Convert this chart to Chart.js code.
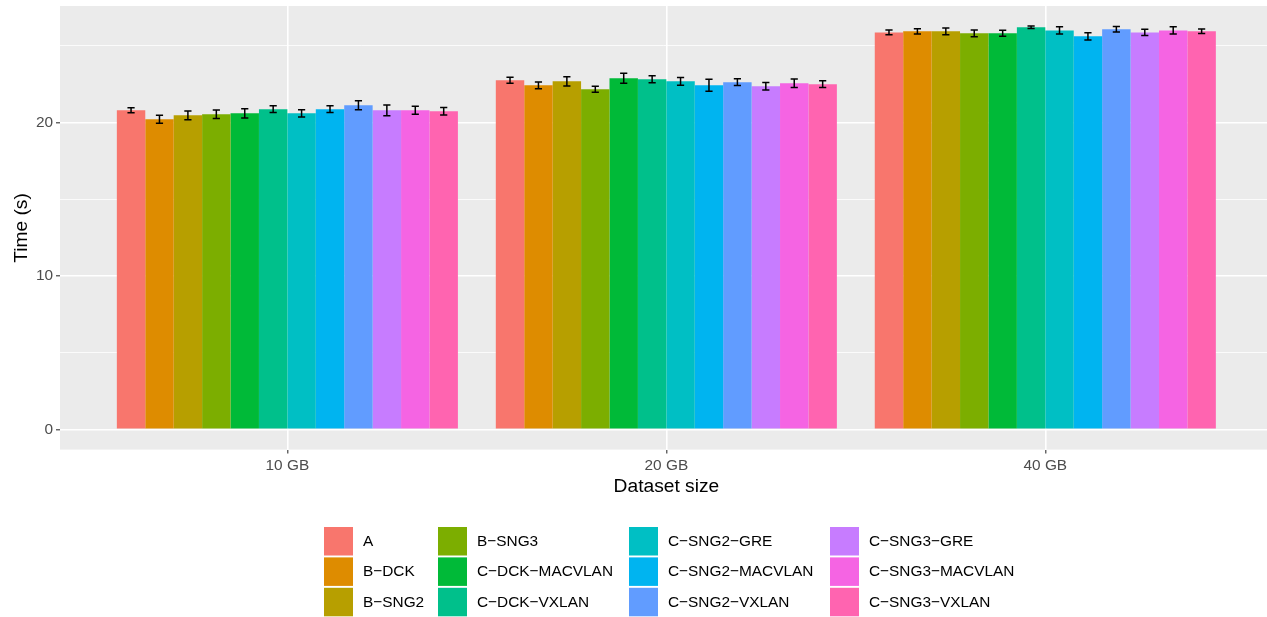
<!DOCTYPE html>
<html>
<head>
<meta charset="utf-8">
<script src="https://cdn.jsdelivr.net/npm/chart.js@4.4.1/dist/chart.umd.min.js"></script>
<style>
  html, body { margin: 0; padding: 0; background: #fff; overflow: hidden; }
  #wrap { width: 1267px; height: 617px; }
</style>
</head>
<body>
<div id="wrap"><canvas id="chart" width="1267" height="617"></canvas></div>
<script>
// ---- data ----
const categories = ["10 GB", "20 GB", "40 GB"];
const series = [
  "A", "B-DCK", "B-SNG2", "B-SNG3", "C-DCK-MACVLAN", "C-DCK-VXLAN",
  "C-SNG2-GRE", "C-SNG2-MACVLAN", "C-SNG2-VXLAN", "C-SNG3-GRE", "C-SNG3-MACVLAN", "C-SNG3-VXLAN",
];
// mean time (s) per series, one array per dataset size
const time10 = [20.80, 20.21, 20.47, 20.54, 20.60, 20.87, 20.60, 20.87, 21.13, 20.80, 20.80, 20.74];
const time20 = [22.76, 22.43, 22.69, 22.17, 22.89, 22.82, 22.69, 22.43, 22.63, 22.37, 22.56, 22.50];
const time40 = [25.88, 25.95, 25.95, 25.82, 25.82, 26.21, 26.01, 25.62, 26.08, 25.88, 26.01, 25.95];
// error bar half-widths
const err10 = [0.16, 0.26, 0.28, 0.28, 0.30, 0.22, 0.24, 0.22, 0.30, 0.35, 0.26, 0.24];
const err20 = [0.20, 0.22, 0.30, 0.20, 0.33, 0.23, 0.25, 0.39, 0.22, 0.24, 0.28, 0.22];
const err40 = [0.16, 0.17, 0.22, 0.22, 0.20, 0.08, 0.24, 0.23, 0.18, 0.20, 0.24, 0.15];
const yMajor = [0, 10, 20];
const yMinor = [5, 15, 25];

// ggplot hue palette
const colors = [
  "#F8766D", "#DE8C00", "#B79F00", "#7CAE00", "#00BA38", "#00C08B",
  "#00BFC4", "#00B4F0", "#619CFF", "#C77CFF", "#F564E3", "#FF64B0",
];

const FONT = '"Liberation Sans", Arial, Helvetica, sans-serif';
const dash = (s) => s.replace(/-/g, "\u2212"); // R draws hyphens as minus signs

const datasets = series.map((name, i) => ({
  label: name,
  data: [time10[i], time20[i], time40[i]],
  errors: [err10[i], err20[i], err40[i]],
  backgroundColor: colors[i],
  borderWidth: 0,
  categoryPercentage: 0.9,
  barPercentage: 1.0,
}));

// grey panel
const panelBg = {
  id: "panelBg",
  beforeDraw(chart) {
    const { ctx, chartArea: a } = chart;
    ctx.save();
    ctx.fillStyle = "#EBEBEB";
    ctx.fillRect(a.left, a.top, a.right - a.left, a.bottom - a.top);
    ctx.restore();
  },
};

// error bars
const errorBars = {
  id: "errorBars",
  afterDatasetsDraw(chart) {
    const { ctx } = chart;
    const y = chart.scales.y;
    ctx.save();
    ctx.strokeStyle = "#000";
    ctx.lineWidth = 1.5;
    chart.data.datasets.forEach((ds, i) => {
      chart.getDatasetMeta(i).data.forEach((bar, j) => {
        const v = ds.data[j], e = ds.errors[j];
        const top = y.getPixelForValue(v + e);
        const bot = y.getPixelForValue(v - e);
        const half = 3.6;
        ctx.beginPath();
        ctx.moveTo(bar.x, top); ctx.lineTo(bar.x, bot);
        ctx.moveTo(bar.x - half, top); ctx.lineTo(bar.x + half, top);
        ctx.moveTo(bar.x - half, bot); ctx.lineTo(bar.x + half, bot);
        ctx.stroke();
      });
    });
    ctx.restore();
  },
};

// axis titles + legend (4 columns, filled top to bottom)
const annotations = {
  id: "annotations",
  afterDraw(chart) {
    const { ctx } = chart;
    ctx.save();
    ctx.fillStyle = "#000";
    ctx.font = `19.2px ${FONT}`;
    ctx.textAlign = "center";
    ctx.textBaseline = "alphabetic";
    ctx.fillText("Dataset size", 666.4, 492);

    ctx.save();
    ctx.translate(27, 228);
    ctx.rotate(-Math.PI / 2);
    ctx.fillText("Time (s)", 0, 0);
    ctx.restore();

    const colX = [324, 438, 629, 830];
    const rowY = [527, 557.4, 587.8];
    const keyW = 29, keyH = 28.5;
    ctx.font = `15.4px ${FONT}`;
    ctx.textAlign = "left";
    ctx.textBaseline = "middle";
    series.forEach((name, i) => {
      const c = Math.floor(i / 3), r = i % 3;
      ctx.fillStyle = colors[i];
      ctx.fillRect(colX[c], rowY[r], keyW, keyH);
      ctx.fillStyle = "#000";
      ctx.fillText(dash(name), colX[c] + 39, rowY[r] + keyH / 2 + 0.5);
    });
    ctx.restore();
  },
};

const ctx = document.getElementById("chart").getContext("2d");
new Chart(ctx, {
  type: "bar",
  data: {
    labels: categories.map((c, i) => i + 1),
    datasets: datasets,
  },
  options: {
    responsive: false,
    animation: false,
    devicePixelRatio: 1,
    layout: { padding: { top: 6, right: 0, left: 0, bottom: 0 } },
    plugins: { legend: { display: false }, tooltip: { enabled: false } },
    scales: {
      x: {
        type: "linear",
        offset: false,
        min: 0.4,
        max: 3.585,
        afterBuildTicks(scale) {
          scale.ticks = categories.map((c, i) => ({ value: i + 1 }));
        },
        afterFit(scale) {
          scale.height = 167.4;
          scale.paddingLeft = 0;
          scale.paddingRight = 0;
        },
        border: { display: false },
        grid: {
          offset: false,
          color: "#FFFFFF",
          lineWidth: 1.6,
          tickColor: "#333333",
          tickLength: 4,
          tickWidth: 1.1,
        },
        ticks: {
          color: "#4D4D4D",
          font: { family: FONT, size: 15.4 },
          padding: 3,
          maxRotation: 0,
          callback: (v) => categories[Math.round(v) - 1],
        },
      },
      y: {
        min: -1.32,
        max: 27.6,
        afterBuildTicks(scale) {
          scale.ticks = [...yMajor, ...yMinor].sort((a, b) => a - b).map((v) => ({ value: v }));
        },
        afterFit(scale) {
          scale.width = 60;
          scale.paddingTop = 0;
          scale.paddingBottom = 0;
        },
        border: { display: false },
        grid: {
          color: "#FFFFFF",
          lineWidth: (c) => (yMajor.includes(c.tick.value) ? 1.6 : 0.8),
          tickColor: (c) => (yMajor.includes(c.tick.value) ? "#333333" : "rgba(0,0,0,0)"),
          tickLength: 4,
          tickWidth: 1.1,
        },
        ticks: {
          color: "#4D4D4D",
          font: { family: FONT, size: 15.4 },
          padding: 3,
          callback: (v) => (yMajor.includes(v) ? String(v) : ""),
        },
      },
    },
  },
  plugins: [panelBg, errorBars, annotations],
});
</script>
</body>
</html>
